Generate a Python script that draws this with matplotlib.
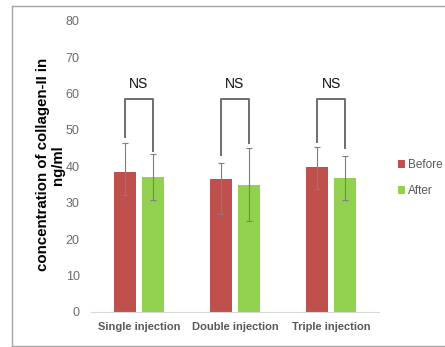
import matplotlib
matplotlib.use("Agg")
import matplotlib.pyplot as plt
from matplotlib.lines import Line2D
import numpy as np

plt.rcParams['font.family'] = ['Liberation Sans', 'DejaVu Sans']

# data
groups = ["Single injection", "Double injection", "Triple injection"]
before = [38.4, 36.6, 39.7]
after = [37.0, 35.0, 36.8]
before_hi = [46.5, 41.0, 45.3]
before_lo = [32.1, 26.8, 33.7]
after_hi = [43.4, 45.0, 42.9]
after_lo = [30.8, 25.1, 30.8]
# bracket leg ends (left, right) and bracket top
leg_left = [48.2, 43.1, 46.8]
leg_right = [44.3, 46.4, 45.0]
bracket_top = 58.6
labels = ["NS", "NS", "NS"]

fig = plt.figure(figsize=(4.45, 3.47), dpi=100)
ax = fig.add_axes([0.204, 0.101, 0.648, 0.839])

x = np.arange(len(groups))
w = 0.226
off = 0.144
b_before = np.array(before)
b_after = np.array(after)
err_b = [b_before - np.array(before_lo), np.array(before_hi) - b_before]
err_a = [b_after - np.array(after_lo), np.array(after_hi) - b_after]

ax.bar(x - off, before, w, color="#C0504D", label="Before", zorder=2)
ax.bar(x + off, after, w, color="#92D050", label="After", zorder=2)
ekw = dict(fmt="none", ecolor="#7f7f7f", elinewidth=0.8, capsize=2.5, capthick=0.8, zorder=3)
ax.errorbar(x - off, before, yerr=err_b, **ekw)
ax.errorbar(x + off, after, yerr=err_a, **ekw)

for i in range(len(groups)):
    ax.plot([x[i] - off, x[i] - off, x[i] + off, x[i] + off],
            [leg_left[i], bracket_top, bracket_top, leg_right[i]],
            color="#6d6d6d", lw=1.4, zorder=3)
    ax.text(x[i], bracket_top + 2.0, labels[i], ha="center", va="bottom",
            fontsize=10, color="#111111")

ax.set_xlim(-0.5, 2.5)
ax.set_ylim(0, 80)
ax.set_yticks(range(0, 81, 10))
ax.set_xticks(x)
ax.set_xticklabels(groups, fontsize=8, fontweight="bold", color="#595959")
ax.tick_params(axis="y", length=0, labelsize=9, labelcolor="#6b6b6b", pad=8)
ax.tick_params(axis="x", length=0, pad=7)
for s in ["top", "right", "left"]:
    ax.spines[s].set_visible(False)
ax.spines["bottom"].set_color("#d9d9d9")

ax.set_ylabel("concentration of collagen-II in\nng/ml", fontsize=10.8,
              fontweight="bold", color="black", labelpad=0, linespacing=1.1)
ax.yaxis.set_label_coords(-0.09, 0.505)

leg = ax.legend(loc="center left", bbox_to_anchor=(1.046, 0.46), frameon=False,
                handlelength=0.55, handleheight=0.6, handletextpad=0.25,
                fontsize=8.5, labelspacing=1.2, borderpad=0)
for t in leg.get_texts():
    t.set_color("#595959")

# frame around the chart (open on the right, as in the reference crop)
bc = "#a6a6a6"
fig.add_artist(Line2D([12 / 445, 1.0], [1 - 5.5 / 347] * 2, transform=fig.transFigure, color=bc, lw=1.0))
fig.add_artist(Line2D([12 / 445, 1.0], [1.2 / 347] * 2, transform=fig.transFigure, color=bc, lw=1.0))
fig.add_artist(Line2D([12 / 445] * 2, [1.2 / 347, 1 - 5.5 / 347], transform=fig.transFigure, color=bc, lw=1.0))

fig.savefig("out.png", dpi=100)
